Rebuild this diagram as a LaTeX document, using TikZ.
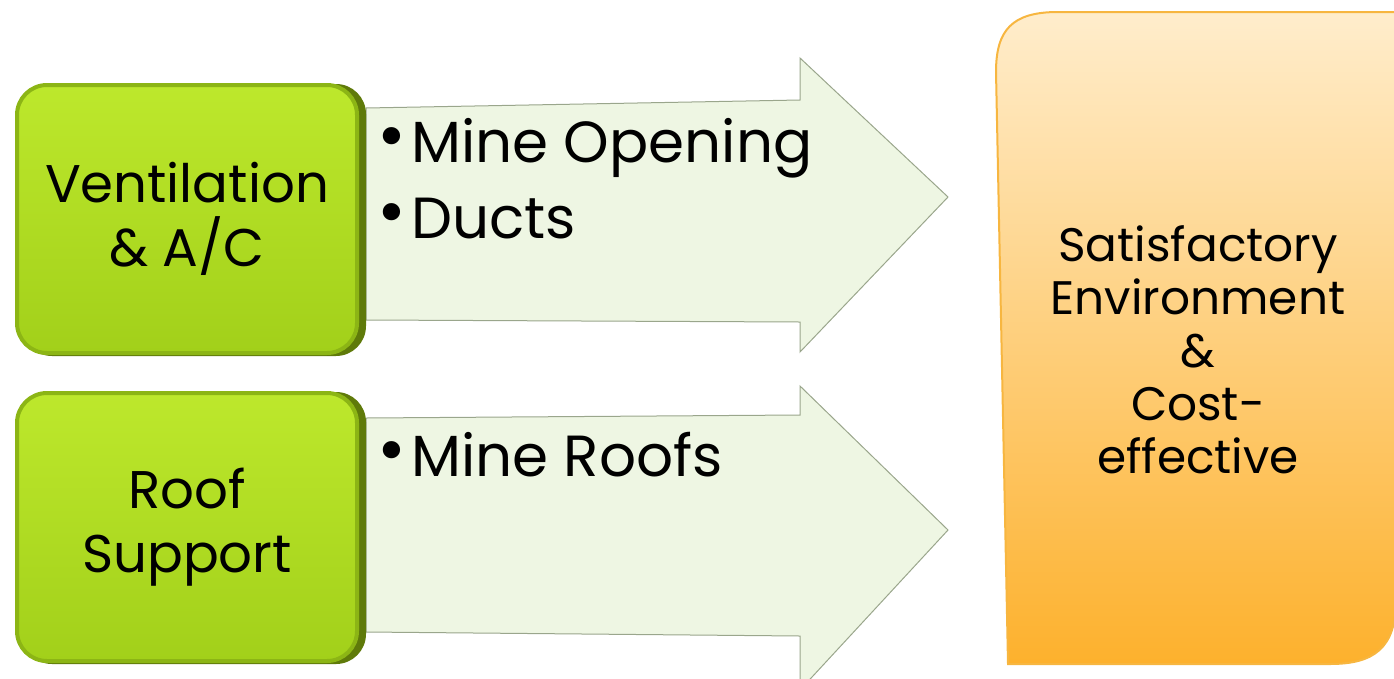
\documentclass[tikz,border=0pt]{standalone}
\usepackage{fontspec}
\setmainfont{Poppins}
\definecolor{gtop}{HTML}{BDE82C}
\definecolor{gbot}{HTML}{A2D01A}
\definecolor{gedge}{HTML}{8CB515}
\definecolor{gshadow}{HTML}{5F7A0A}
\definecolor{afill}{HTML}{EEF6E3}
\definecolor{aedge}{HTML}{9AA68C}
\definecolor{otop}{HTML}{FFEDCC}
\definecolor{obot}{HTML}{FDB12D}
\definecolor{oedge}{HTML}{F7B640}
\tikzset{
  greenbox/.style={rounded corners=30pt, minimum width=340pt, minimum height=268pt,
     top color=gtop, bottom color=gbot, draw=gedge, line width=4pt,
     align=center, font=\fontsize{53}{64}\selectfont, inner sep=0pt},
  gshade/.style={fill=gshadow, rounded corners=30pt},
  arrowshape/.style={fill=afill, draw=aedge, line width=1pt, line join=miter},
  bullettext/.style={anchor=base west, font=\fontsize{58}{76}\selectfont, inner sep=0pt},
  orangebox/.style={top color=otop, bottom color=obot, draw=oedge, line width=2pt},
  otext/.style={align=center, font=\fontsize{47}{53}\selectfont, inner sep=0pt}
}
\newcommand{\bul}{\makebox[34pt][l]{\raisebox{0.05em}{\fontsize{70}{70}\selectfont\textbullet}}}
\begin{document}
\begin{tikzpicture}[x=1pt,y=-1pt]
\useasboundingbox (0,0) rectangle (1394,678);
% arrows
\path[arrowshape] (366,108) -- (800,100) -- (800,58) -- (948,197) -- (800,352) -- (800,322) -- (366,320) -- cycle;
\path[arrowshape] (366,418) -- (800,415) -- (800,386) -- (948,530) -- (800,690) -- (800,636) -- (366,632) -- cycle;
% green boxes
\path[gshade] (22,84) rectangle (366,356);
\node[greenbox] (vent) at (187,219) {Ventilation\\\& A/C};
\path[gshade] (22,392) rectangle (366,664);
\node[greenbox] (roof) at (187,527) {Roof\\Support};
% bullets
\node[bullettext] (b1) at (377,162) {\bul Mine Opening};
\node[bullettext] (b2) at (377,238) {\bul Ducts};
\node[bullettext] (b3) at (377,476) {\bul Mine Roofs};
% orange box
\path[orangebox] (1008,664) -- (996,72) .. controls (996,30) and (1012,12) .. (1058,12) -- (1396,12) -- (1396,600) .. controls (1396,648) and (1374,664) .. (1330,664) -- cycle;
\node[otext] (goal) at (1198,350) {Satisfactory\\Environment\\\&\\Cost-\\effective};
\end{tikzpicture}
\end{document}
